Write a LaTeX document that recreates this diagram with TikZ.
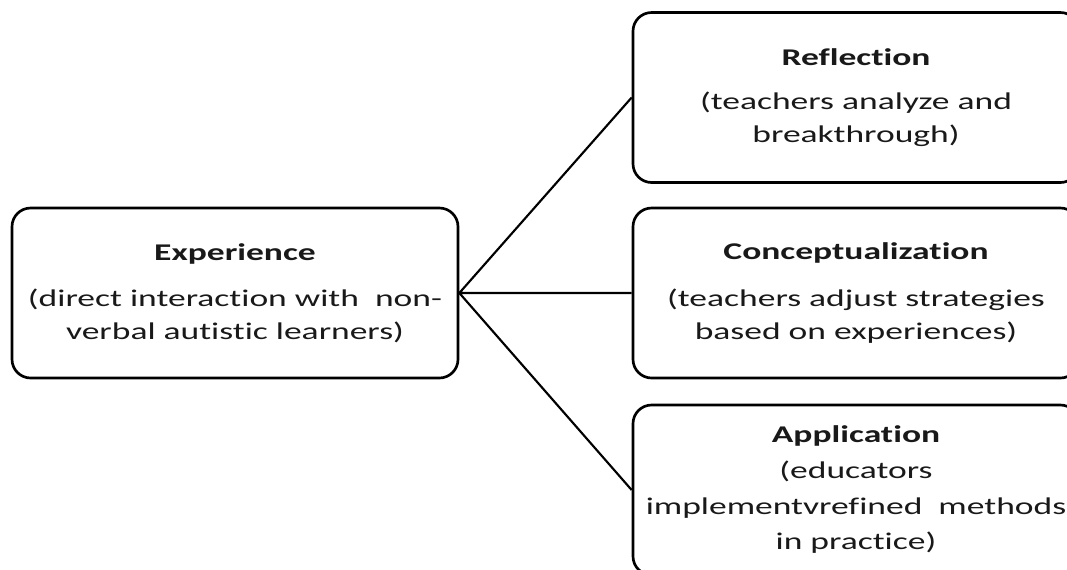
\documentclass[tikz,border=0pt]{standalone}
\usepackage{fontspec}
\setmainfont{Carlito}[FakeStretch=1.48, Ligatures=NoCommon]

\begin{document}
\begin{tikzpicture}[
    x = 0.75pt, y = -0.75pt,
    stage/.style = {draw, line width=2pt, rounded corners=14pt,
      minimum width=334.5pt, minimum height=127.5pt, inner sep=0pt,
      align=center, text=black!90, font=\fontsize{18}{24.75}\selectfont},
    link/.style = {line width=1.6pt}]

\useasboundingbox (0,0) rectangle (1067,569);
\clip (0,0) rectangle (1067,569);

\node[stage] (exp) at (235,293)
  {\textbf{Experience}\\[10pt](direct interaction with\ \ non-\\verbal autistic learners)};
\node[stage] (refl) at (856,97.5)
  {\textbf{Reflection}\\[8pt](teachers analyze and\\breakthrough)};
\node[stage] (conc) at (856,293)
  {\textbf{Conceptualization}\\[10pt](teachers adjust strategies\\based on experiences)};
\node[stage] (appl) at (856,490)
  {\textbf{Application}\\[2pt](educators\\[2pt]implementvrefined\ \ methods\\[2pt]in practice)};

\draw[link] (exp.east) -- (refl.west)
	  (exp.east) -- (conc.west)
	  (exp.east) -- (appl.west);
\end{tikzpicture}
\end{document}
